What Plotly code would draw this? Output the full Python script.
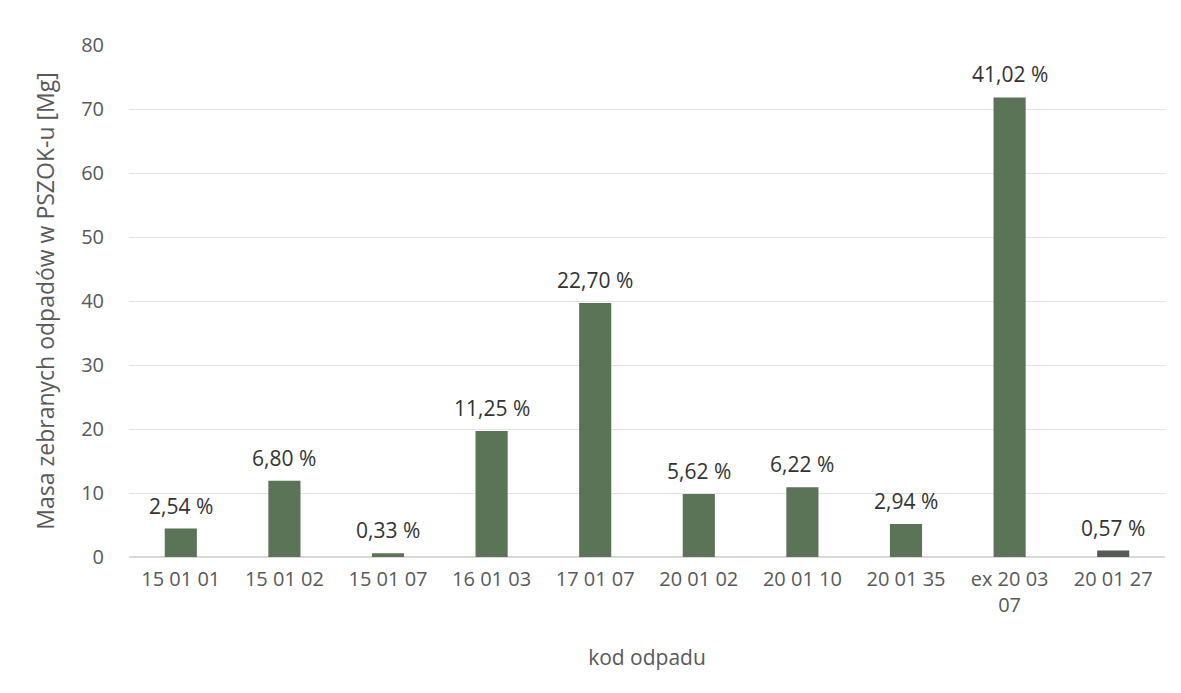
import plotly.graph_objects as go

categories = ["15 01 01", "15 01 02", "15 01 07", "16 01 03", "17 01 07",
              "20 01 02", "20 01 10", "20 01 35", "ex 20 03<br>07", "20 01 27"]
values = [4.45, 11.9, 0.58, 19.7, 39.7, 9.84, 10.9, 5.15, 71.8, 1.0]
labels = ["2,54 %", "6,80 %", "0,33 %", "11,25 %", "22,70 %",
          "5,62 %", "6,22 %", "2,94 %", "41,02 %", "0,57 %"]
colors = ["#5b7356"] * 9 + ["#555a57"]

fig = go.Figure(go.Bar(
    x=categories, y=values,
    marker=dict(color=colors, line=dict(width=0)),
    width=0.31, hoverinfo="x+y",
))

for c, v, t in zip(categories, values, labels):
    fig.add_annotation(
        x=c, y=v, text=t, showarrow=False, yanchor="bottom", yshift=7,
        font=dict(size=21, color="#333333", family="Open Sans"),
    )

fig.update_layout(
    width=1181, height=693,
    paper_bgcolor="white", plot_bgcolor="white",
    margin=dict(l=121, r=24, t=37, b=144),
    font=dict(family="Open Sans", color="#595959"),
    showlegend=False,
    xaxis=dict(
        title=dict(text="kod odpadu", font=dict(size=21, color="#595959"), standoff=33),
        tickfont=dict(size=20, color="#595959"),
        showline=False, ticks="", ticklabelstandoff=8,
        automargin=False,
    ),
    yaxis=dict(
        title=dict(text="Masa zebranych odpadów w PSZOK-u [Mg]", font=dict(size=23, color="#595959"), standoff=20),
        range=[0, 80], dtick=10,
        tickfont=dict(size=20, color="#595959"),
        gridcolor="#e3e3e3", zeroline=True, zerolinecolor="#d9d9d9",
        showline=False, ticks="", ticklabelstandoff=24,
        automargin=False,
    ),
)

fig.write_html("out.html")
